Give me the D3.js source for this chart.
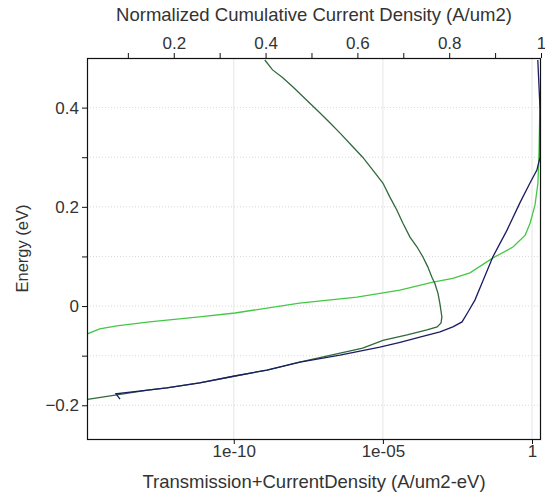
<!DOCTYPE html>
<html>
<head>
<meta charset="utf-8">
<script src="https://cdn.jsdelivr.net/npm/d3@7"></script>
<style>
  body { margin: 0; background: #fff; }
  text { font-family: "Liberation Sans", Arial, sans-serif; fill: #333; }
</style>
</head>
<body>
<script>
var width = 545,
    height = 495,
    margin = { top: 58, right: 4, bottom: 56, left: 87 };

// transmission vs energy (bottom log axis)
var transE = [-0.066, -0.0565, -0.046, -0.040, -0.032, -0.022, -0.014, 0.006, 0.018, 0.032,
              0.048, 0.056, 0.067, 0.097, 0.119, 0.143, 0.167, 0.204, 0.248, 0.315, 0.421];
var transmission = [3e-16, 1.2e-15, 3.2e-15, 1.2e-14, 1.5e-13, 7e-12, 1.1e-10, 1.6e-8, 1.35e-6, 3.7e-5,
                    4.8e-4, 2.2e-3, 8.3e-3, 4.9e-2, 0.23, 0.59, 0.86, 1.26, 1.58, 1.72, 1.86];

// spectral current density vs energy (bottom log axis)
var currE = [0.496, 0.476, 0.460, 0.442, 0.415, 0.389, 0.369, 0.349, 0.321, 0.300,
             0.274, 0.248, 0.220, 0.194, 0.167, 0.139, 0.119, 0.099, 0.079, 0.058,
             0.046, 0.026, 0.006, -0.022, -0.034, -0.042, -0.048, -0.058, -0.069, -0.085,
             -0.113, -0.129, -0.141, -0.155, -0.165, -0.169, -0.179, -0.188];
var currDensity = [1.1e-9, 2.0e-9, 4.4e-9, 9.5e-9, 2.8e-8, 7.8e-8, 1.7e-7, 3.6e-7, 9.8e-7, 2.1e-6,
                   4.6e-6, 1.0e-5, 1.7e-5, 2.9e-5, 4.7e-5, 8.1e-5, 1.4e-4, 2.2e-4, 3.2e-4, 4.4e-4,
                   5.5e-4, 7.0e-4, 8.1e-4, 9.5e-4, 8.9e-4, 6.6e-4, 3.0e-4, 6.5e-5, 1.0e-5, 2.1e-6,
                   1.6e-8, 1.3e-9, 1.1e-10, 7e-12, 5.6e-13, 1.5e-13, 1.2e-14, 1.25e-15];

// normalized cumulative current density vs energy (top linear axis)
var cumE = [-0.1875, -0.177, -0.169, -0.165, -0.155, -0.141, -0.129, -0.113, -0.099, -0.083,
            -0.073, -0.0625, -0.052, -0.042, -0.032, -0.012, 0.012, 0.052, 0.099, 0.153,
            0.208, 0.248, 0.274, 0.300, 0.395, 0.496];
var cumCurrent = [0.083, 0.074, 0.148, 0.185, 0.257, 0.333, 0.403, 0.475, 0.562, 0.649,
                  0.693, 0.736, 0.780, 0.808, 0.828, 0.841, 0.856, 0.874, 0.895, 0.926,
                  0.954, 0.976, 0.991, 0.998, 0.998, 0.993];

var energyTicks = [-0.2, -0.1, 0, 0.1, 0.2, 0.3, 0.4];
var topTicks = [0.1, 0.2, 0.3, 0.4, 0.5, 0.6, 0.7, 0.8, 0.9, 1];
var bottomTicks = [1e-10, 1e-5, 1];
var bottomTickLabels = ["1e-10", "1e-05", "1"];

var x0 = margin.left, x1 = width - margin.right,
    y0 = margin.top, y1 = height - margin.bottom;

var xLog = d3.scaleLog().domain([1.2e-15, 2.0]).range([x0, x1]);
var xTop = d3.scaleLinear().domain([0.011, 1]).range([x0, x1]);
var y = d3.scaleLinear().domain([-0.268, 0.5]).range([y1, y0]);

var svg = d3.select("body").append("svg")
    .attr("width", width)
    .attr("height", height)
    .style("background", "#fff");

svg.append("clipPath")
    .attr("id", "clip")
    .append("rect")
    .attr("x", x0)
    .attr("y", y0)
    .attr("width", x1 - x0)
    .attr("height", y1 - y0);

// grid
var grid = svg.append("g");
grid.selectAll(".hg")
    .data(energyTicks)
    .enter().append("line")
    .attr("x1", x0).attr("x2", x1)
    .attr("y1", function(d) { return y(d); })
    .attr("y2", function(d) { return y(d); })
    .attr("stroke", "#d8d8d8")
    .attr("stroke-dasharray", "1,2");
grid.selectAll(".vg")
    .data(bottomTicks)
    .enter().append("line")
    .attr("y1", y0).attr("y2", y1)
    .attr("x1", function(d) { return xLog(d); })
    .attr("x2", function(d) { return xLog(d); })
    .attr("stroke", "#e6e6e6");

// curves
var plot = svg.append("g").attr("clip-path", "url(#clip)");

function series(es, vs) {
    return es.map(function(e, i) { return [vs[i], e]; });
}

plot.append("path")
    .datum(series(transE, transmission))
    .attr("fill", "none")
    .attr("stroke", "#44c844")
    .attr("stroke-width", 1.3)
    .attr("d", d3.line()
        .x(function(d) { return xLog(d[0]); })
        .y(function(d) { return y(d[1]); }));

plot.append("path")
    .datum(series(currE, currDensity))
    .attr("fill", "none")
    .attr("stroke", "#2f6a3c")
    .attr("stroke-width", 1.3)
    .attr("d", d3.line()
        .x(function(d) { return xLog(d[0]); })
        .y(function(d) { return y(d[1]); }));

plot.append("path")
    .datum(series(cumE, cumCurrent))
    .attr("fill", "none")
    .attr("stroke", "#1c1c62")
    .attr("stroke-width", 1.3)
    .attr("d", d3.line()
        .x(function(d) { return xTop(d[0]); })
        .y(function(d) { return y(d[1]); }));

// axes
function evenTenths(d) {
    var r = Math.round(d * 10);
    return r % 2 === 0 ? d3.format("")(r / 10) : "";
}

var yAxis = d3.axisLeft(y)
    .tickValues(energyTicks)
    .tickSize(5)
    .tickPadding(3)
    .tickFormat(evenTenths);

var topAxis = d3.axisTop(xTop)
    .tickValues(topTicks)
    .tickSize(5)
    .tickPadding(4)
    .tickFormat(evenTenths);

var bottomAxis = d3.axisBottom(xLog)
    .tickValues(bottomTicks)
    .tickSize(5)
    .tickPadding(1)
    .tickFormat(function(d, i) { return bottomTickLabels[i]; });

function styleAxis(g) {
    g.select(".domain").remove();
    g.selectAll("line").attr("stroke", "#111");
    g.selectAll("text").style("font-size", "17px").attr("fill", "#333");
}

svg.append("g").attr("transform", "translate(" + x0 + ",0)").call(yAxis).call(styleAxis);
svg.append("g").attr("transform", "translate(0," + y0 + ")").call(topAxis).call(styleAxis);
svg.append("g").attr("transform", "translate(0," + y1 + ")").call(bottomAxis).call(styleAxis);

// frame
svg.append("rect")
    .attr("x", x0 + 0.5)
    .attr("y", y0 + 0.5)
    .attr("width", x1 - x0 - 1)
    .attr("height", y1 - y0)
    .attr("fill", "none")
    .attr("stroke", "#111")
    .attr("stroke-width", 1.2);

// titles
svg.append("text")
    .attr("x", (x0 + x1) / 2)
    .attr("y", 21)
    .attr("text-anchor", "middle")
    .style("font-size", "18.5px")
    .text("Normalized Cumulative Current Density (A/um2)");

svg.append("text")
    .attr("x", (x0 + x1) / 2)
    .attr("y", 488)
    .attr("text-anchor", "middle")
    .style("font-size", "18.5px")
    .text("Transmission+CurrentDensity (A/um2-eV)");

svg.append("text")
    .attr("transform", "translate(28," + ((y0 + y1) / 2) + ") rotate(-90)")
    .attr("text-anchor", "middle")
    .style("font-size", "16.5px")
    .text("Energy (eV)");
</script>
</body>
</html>
